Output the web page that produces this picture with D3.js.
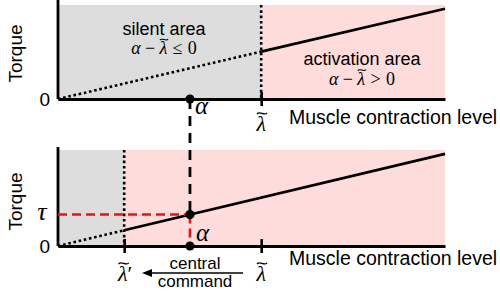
<!DOCTYPE html>
<html><head><meta charset="utf-8">
<script src="https://cdn.jsdelivr.net/npm/d3@7"></script>
<style>body{margin:0;background:#fff}svg{display:block}</style>
</head><body><svg id="c" width="500" height="297"></svg>
<script>
// ---------- data ----------
const xDomain = [0, 10];
const yDomain = [0, 10];
const lambdaValues = [5.25, 1.71];   // λ̃ (threshold), λ̃' (threshold shifted by central command)
const alphaValues = [3.41];          // muscle contraction level α
const torqueLineX = [0, 10];
const torqueLineY = [0, 9.6];
const yTickLabels = ["0"];
const axisTitles = ["Torque", "Muscle contraction level"];
const regionTitles = ["silent area", "activation area"];
const commandLabels = ["central", "command"];

// ---------- setup ----------
const sans = "'Liberation Sans', Arial, Helvetica, sans-serif";
const serif = "'Liberation Serif', 'Times New Roman', serif";
const GRAY = "#dddddd", PINK = "#ffdcdc", RED = "#ee1111";
const svg = d3.select("#c");
const x = d3.scaleLinear().domain(xDomain).range([58, 445]);
const yTop = d3.scaleLinear().domain(yDomain).range([99, 5]);
const yBot = d3.scaleLinear().domain(yDomain).range([246, 150]);
const torqueAt = d3.scaleLinear().domain(torqueLineX).range(torqueLineY);

const lam = lambdaValues[0], lamP = lambdaValues[1], alpha = alphaValues[0];
const tau = torqueAt(alpha);

function math(parent, cx, by, parts, size) {
  const g = parent.append("g");
  let cur = 0;
  const items = parts.map(p => {
    cur += (p.pre || 0) * size;
    const t = g.append("text").attr("font-family", serif).attr("font-size", size)
      .attr("font-style", p.it ? "italic" : "normal").attr("y", by).text(p.t);
    const w = t.node().getComputedTextLength();
    const it = {t, x: cur, w, p};
    cur += w + (p.post || 0) * size;
    return it;
  });
  const start = cx - cur / 2;
  items.forEach(it => {
    it.t.attr("x", start + it.x);
    if (it.p.tilde) {
      const tc = start + it.x + it.w / 2 + size * 0.04;
      const ty = by - size * 0.80;
      const w = size * 0.46, a = size * 0.09;
      g.append("path")
        .attr("d", `M${tc - w/2},${ty + a*0.3} C${tc - w/5},${ty - a*1.6} ${tc + w/5},${ty + a*1.6} ${tc + w/2},${ty - a*0.3}`)
        .attr("fill", "none").attr("stroke", "#000").attr("stroke-width", size * 0.06);
    }
  });
  return g;
}

function panel(y, thr, axisTopY) {
  const g = svg.append("g");
  g.append("rect").attr("x", x(0)).attr("y", y(10)).attr("width", x(thr) - x(0)).attr("height", y(0) - y(10)).attr("fill", GRAY);
  g.append("rect").attr("x", x(thr)).attr("y", y(10)).attr("width", x(10) - x(thr)).attr("height", y(0) - y(10)).attr("fill", PINK);
  g.append("line").attr("x1", x(thr)).attr("x2", x(thr)).attr("y1", y(10)).attr("y2", y(0))
    .attr("stroke", "#000").attr("stroke-width", 2.6).attr("stroke-dasharray", "2.6 2.7");
  const line = d3.line().x(d => x(d)).y(d => y(torqueAt(d)));
  g.append("path").attr("d", line([0, thr])).attr("fill", "none").attr("stroke", "#000")
    .attr("stroke-width", 2.6).attr("stroke-dasharray", "2.6 2.7");
  g.append("path").attr("d", line([thr, 10])).attr("fill", "none").attr("stroke", "#000").attr("stroke-width", 2.8);
  g.append("line").attr("x1", x(0)).attr("x2", x(0)).attr("y1", axisTopY).attr("y2", y(0))
    .attr("stroke", "#000").attr("stroke-width", 2.8);
  const ay = g.append("g").attr("transform", `translate(${x(0)},0)`)
    .call(d3.axisLeft(y).tickValues([0]).tickFormat((d, i) => yTickLabels[i]).tickSize(0).tickPadding(8));
  ay.select(".domain").remove();
  ay.selectAll("text").attr("font-family", sans).attr("font-size", 19).attr("fill", "#000").attr("dy", "0.35em");
  return g;
}

function bottomAxis(g, y, ticks) {
  const ax = g.append("g").attr("transform", `translate(0,${y(0)})`)
    .call(d3.axisBottom(x).tickValues(ticks).tickFormat("").tickSizeOuter(0).tickSizeInner(7));
  ax.select(".domain").attr("stroke", "#000").attr("stroke-width", 2.8);
  ax.selectAll(".tick line").attr("y1", -7).attr("y2", 7).attr("stroke", "#000").attr("stroke-width", 2.6);
}

const gTop = panel(yTop, lam, 0);
const gBot = panel(yBot, lamP, 147);

svg.append("line").attr("x1", x(alpha)).attr("x2", x(alpha)).attr("y1", yTop(0)).attr("y2", yBot(tau))
  .attr("stroke", "#000").attr("stroke-width", 2.8).attr("stroke-dasharray", "10 7");
svg.append("line").attr("x1", x(0)).attr("x2", x(alpha)).attr("y1", yBot(tau)).attr("y2", yBot(tau))
  .attr("stroke", RED).attr("stroke-width", 2.6).attr("stroke-dasharray", "9 5");
svg.append("line").attr("x1", x(alpha)).attr("x2", x(alpha)).attr("y1", yBot(tau)).attr("y2", yBot(0))
  .attr("stroke", RED).attr("stroke-width", 2.6).attr("stroke-dasharray", "9 5");

bottomAxis(gTop, yTop, [lam]);
bottomAxis(gBot, yBot, [lamP, lam]);

[[x(alpha), yTop(0)], [x(alpha), yBot(tau)], [x(alpha), yBot(0)]].forEach(p =>
  svg.append("circle").attr("cx", p[0]).attr("cy", p[1]).attr("r", 4.6).attr("fill", "#000"));

// ---------- texts ----------
[53.5, 201.5].forEach(cy =>
  svg.append("text").attr("transform", `translate(22,${cy}) rotate(-90)`).attr("text-anchor", "middle")
    .attr("font-family", sans).attr("font-size", 19).text(axisTitles[0]));
[123.5, 265].forEach(by =>
  svg.append("text").attr("x", 289).attr("y", by).attr("font-family", sans).attr("font-size", 19.5).text(axisTitles[1]));

svg.append("text").attr("x", 164).attr("y", 34.5).attr("text-anchor", "middle")
  .attr("font-family", sans).attr("font-size", 18).text(regionTitles[0]);
svg.append("text").attr("x", 362).attr("y", 65).attr("text-anchor", "middle")
  .attr("font-family", sans).attr("font-size", 18).text(regionTitles[1]);

math(svg, 164, 54, [{t:"α", it:true, post:0.24}, {t:"−", post:0.24}, {t:"λ", it:true, tilde:true, post:0.3}, {t:"≤", post:0.3}, {t:"0"}], 18);
math(svg, 362, 84.5, [{t:"α", it:true, post:0.24}, {t:"−", post:0.24}, {t:"λ", it:true, tilde:true, post:0.3}, {t:">", post:0.3}, {t:"0"}], 18);

svg.append("text").attr("x", 195).attr("y", 113.5).attr("font-family", serif).attr("font-style", "italic").attr("font-size", 25).text("α");
svg.append("text").attr("x", 196).attr("y", 240.5).attr("font-family", serif).attr("font-style", "italic").attr("font-size", 25).text("α");
svg.append("text").attr("x", 42).attr("y", 219.5).attr("text-anchor", "middle").attr("font-family", serif).attr("font-style", "italic").attr("font-size", 26).text("τ");

math(svg, x(lam), 131, [{t:"λ", it:true, tilde:true}], 22);
math(svg, x(lam), 281, [{t:"λ", it:true, tilde:true}], 22);
math(svg, x(lamP) + 1, 281, [{t:"λ", it:true, tilde:true}, {t:"′"}], 22);

svg.append("text").attr("x", 195).attr("y", 269.3).attr("text-anchor", "middle").attr("font-family", sans).attr("font-size", 17).text(commandLabels[0]);
svg.append("text").attr("x", 195).attr("y", 286.7).attr("text-anchor", "middle").attr("font-family", sans).attr("font-size", 17).text(commandLabels[1]);
svg.append("line").attr("x1", 243).attr("x2", 150).attr("y1", 273).attr("y2", 273).attr("stroke", "#000").attr("stroke-width", 1.6);
svg.append("path").attr("d", "M142,273 L152,269 L152,277 Z").attr("fill", "#000");
</script></body></html>
